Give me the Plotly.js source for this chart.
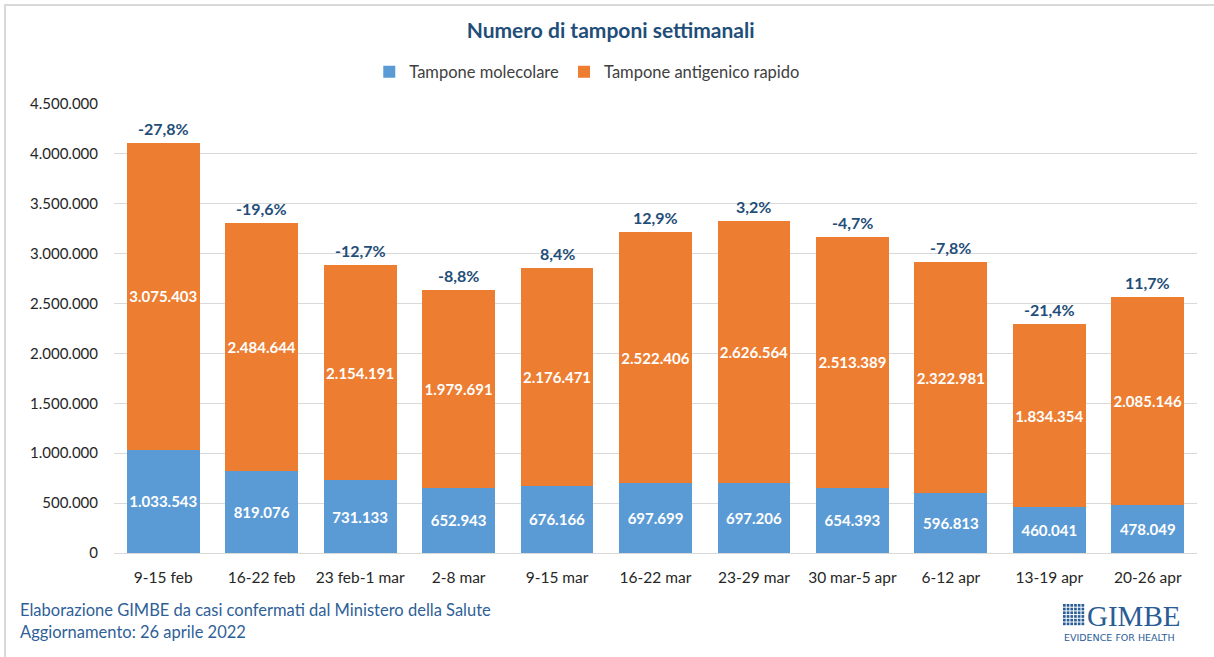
<!DOCTYPE html>
<html>
<head>
<meta charset="utf-8">
<script src="https://cdn.plot.ly/plotly-3.0.1.min.js"></script>
<style>
html,body{margin:0;padding:0;background:#fff;}
#wrap{position:relative;width:1214px;height:657px;overflow:hidden;}
#chart{width:1214px;height:657px;}
#frame{position:absolute;left:4px;top:4px;width:1230px;height:700px;border:2px solid #d9d9d9;pointer-events:none;}
</style>
</head>
<body>
<div id="wrap"><div id="chart"></div><div id="frame"></div></div>
<script>
const categories = ['9-15 feb','16-22 feb','23 feb-1 mar','2-8 mar','9-15 mar','16-22 mar','23-29 mar','30 mar-5 apr','6-12 apr','13-19 apr','20-26 apr'];
const molecolare = [1033543, 819076, 731133, 652943, 676166, 697699, 697206, 654393, 596813, 460041, 478049];
const antigenico = [3075403, 2484644, 2154191, 1979691, 2176471, 2522406, 2626564, 2513389, 2322981, 1834354, 2085146];
const variazione = ['-27,8%','-19,6%','-12,7%','-8,8%','8,4%','12,9%','3,2%','-4,7%','-7,8%','-21,4%','11,7%'];

const FONT = 'Lato, "Open Sans", sans-serif';
const DARK = '#1F4E79';

const traces = [
  {type:'bar', name:'Tampone molecolare', x:categories, y:molecolare,
   marker:{color:'#5B9BD5'}, texttemplate:'%{y:,}', textposition:'inside', textangle:0,
   insidetextanchor:'middle', constraintext:'none',
   textfont:{color:'#ffffff', size:15, family:FONT, weight:'bold'}, hoverinfo:'skip'},
  {type:'bar', name:'Tampone antigenico rapido', x:categories, y:antigenico,
   marker:{color:'#ED7D31'}, texttemplate:'%{y:,}', textposition:'inside', textangle:0,
   insidetextanchor:'middle', constraintext:'none',
   textfont:{color:'#ffffff', size:15, family:FONT, weight:'bold'}, hoverinfo:'skip'}
];

const annotations = categories.map((c,i)=>({
  x:c, y:molecolare[i]+antigenico[i], xref:'x', yref:'y', text:'<b>'+variazione[i]+'</b>',
  showarrow:false, yanchor:'bottom', yshift:3, font:{color:DARK, size:16, family:FONT}
}));
annotations.push({xref:'paper', yref:'paper', x:-0.0886, y:-0.127, xanchor:'left', yanchor:'middle',
  text:'Elaborazione GIMBE da casi confermati dal Ministero della Salute', showarrow:false,
  font:{color:'#2F5F97', size:16.5, family:FONT}});
annotations.push({xref:'paper', yref:'paper', x:-0.0886, y:-0.176, xanchor:'left', yanchor:'middle',
  text:'Aggiornamento: 26 aprile 2022', showarrow:false,
  font:{color:'#2F5F97', size:16.5, family:FONT}});
annotations.push({xref:'paper', yref:'paper', x:0.897, y:-0.140, xanchor:'left', yanchor:'middle',
  text:'GIMBE', showarrow:false,
  font:{color:'#2A5C96', size:29, family:'"Liberation Serif", serif'}});
annotations.push({xref:'paper', yref:'paper', x:0.875, y:-0.188, xanchor:'left', yanchor:'middle',
  text:'EVIDENCE FOR HEALTH', showarrow:false,
  font:{color:'#2A5C96', size:9.5, family:'"DejaVu Sans", sans-serif'}});

// logo grid icon
const shapes = [];
const gx0 = 1063, gy0 = 604, cell = 3.7;
for (let r=0;r<6;r++) for (let k=0;k<6;k++) {
  shapes.push({type:'rect', xref:'paper', yref:'paper',
    x0:(gx0+k*cell-114)/1083, x1:(gx0+k*cell+2.7-114)/1083,
    y0:(553-(gy0+r*cell+2.7))/449, y1:(553-(gy0+r*cell))/449,
    fillcolor:'#2A5C96', line:{width:0}});
}

const layout = {
  width:1214, height:657,
  margin:{l:114, r:17, t:104, b:104},
  paper_bgcolor:'#ffffff', plot_bgcolor:'#ffffff',
  separators:',.',
  barmode:'stack', bargap:0.26,
  font:{family:FONT, color:'#404040', size:14},
  title:{text:'<b>Numero di tamponi settimanali</b>', x:0.503, xref:'container', xanchor:'center', y:0.953, yanchor:'middle',
         font:{color:DARK, size:21, family:FONT}},
  legend:{orientation:'h', x:0.437, xanchor:'center', y:1.071, yanchor:'middle',
          font:{size:16.5, color:'#404040', family:FONT}, traceorder:'normal', itemwidth:30, bgcolor:'rgba(0,0,0,0)'},
  xaxis:{type:'category', showgrid:false, showline:true, linecolor:'#d9d9d9', linewidth:1,
         ticks:'outside', ticklen:10, tickcolor:'rgba(0,0,0,0)', tickfont:{size:15.5, color:'#262626'}, fixedrange:true},
  yaxis:{range:[0,4500000], tick0:0, dtick:500000, tickformat:',', showgrid:true,
         gridcolor:'#d9d9d9', gridwidth:1, zeroline:false, ticks:'outside', ticklen:12, tickcolor:'rgba(0,0,0,0)',
         tickfont:{size:15, color:'#262626'}, fixedrange:true},
  annotations:annotations,
  shapes:shapes,
  showlegend:true
};

Plotly.newPlot('chart', traces, layout, {displayModeBar:false, staticPlot:true});
</script>
</body>
</html>
